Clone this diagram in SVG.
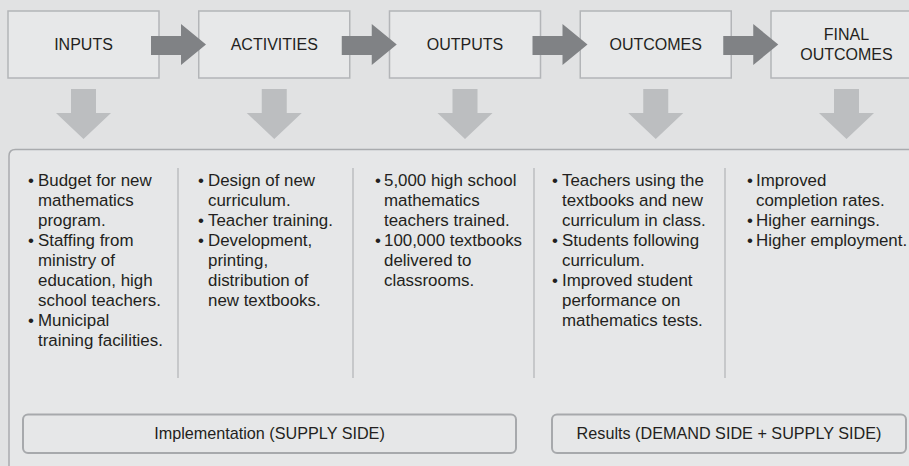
<svg xmlns="http://www.w3.org/2000/svg" width="909" height="466" viewBox="0 0 909 466">
<defs>
<style>
.bg{fill:#e1e2e3}
.box{fill:#e7e8e9;stroke:#b3b5b8;stroke-width:1.5}
.lbl{font-family:"Liberation Sans",Arial,sans-serif;font-size:16px;fill:#231f20;text-anchor:middle}
.lbl2{font-family:"Liberation Sans",Arial,sans-serif;font-size:16.2px;fill:#231f20;text-anchor:middle}
.body{font-family:"Liberation Sans",Arial,sans-serif;font-size:16.9px;fill:#231f20}
.harrow{fill:#808285}
.varrow{fill:#bcbec0}
.panel{fill:#e6e7e8;stroke:#a9abae;stroke-width:1.5}
.div{stroke:#a7a9ac;stroke-width:1}
.side{fill:#e6e7e8;stroke:#a7a9ac;stroke-width:2}
</style>
<path id="ha" d="M151,36 H181 V24 L206,44.5 L181,65 V55 H151 Z"/>
<path id="va" d="M-12.5,89 H12.5 V113 H27.5 L0,139 L-27.5,113 H-12.5 Z"/>
</defs>
<rect class="bg" x="0" y="0" width="909" height="466"/>

<g id="inputs">
<rect class="box" x="8" y="11" width="151" height="67"/>
<text class="lbl" x="83.5" y="50">INPUTS</text>
</g>
<g id="activities">
<rect class="box" x="198.75" y="11" width="151" height="67"/>
<text class="lbl" x="274.25" y="50">ACTIVITIES</text>
</g>
<g id="outputs">
<rect class="box" x="389.5" y="11" width="151" height="67"/>
<text class="lbl" x="465" y="50">OUTPUTS</text>
</g>
<g id="outcomes">
<rect class="box" x="580.25" y="11" width="151" height="67"/>
<text class="lbl" x="655.75" y="50">OUTCOMES</text>
</g>
<g id="final-outcomes">
<rect class="box" x="771" y="11" width="151" height="67"/>
<text class="lbl" x="846.5" y="40">FINAL</text>
<text class="lbl" x="846.5" y="59.5">OUTCOMES</text>
</g>

<g id="connectors">
<use href="#ha" class="harrow"/>
<use href="#ha" class="harrow" transform="translate(190.75,0)"/>
<use href="#ha" class="harrow" transform="translate(381.5,0)"/>
<use href="#ha" class="harrow" transform="translate(572.25,0)"/>
<use href="#va" class="varrow" transform="translate(83.5,0)"/>
<use href="#va" class="varrow" transform="translate(274.25,0)"/>
<use href="#va" class="varrow" transform="translate(465,0)"/>
<use href="#va" class="varrow" transform="translate(655.75,0)"/>
<use href="#va" class="varrow" transform="translate(846.5,0)"/>
</g>

<g id="panel">
<path class="panel" d="M9,475 V156 Q9,149.5 15.5,149.5 H925 V475 Z"/>
<line class="div" x1="178" y1="168" x2="178" y2="378"/>
<line class="div" x1="353" y1="168" x2="353" y2="378"/>
<line class="div" x1="534" y1="168" x2="534" y2="378"/>
<line class="div" x1="725" y1="168" x2="725" y2="378"/>
</g>

<g id="col-inputs">
<text class="body">
<tspan x="28" y="186">•</tspan><tspan x="38" y="186">Budget for new</tspan>
<tspan x="38" y="206">mathematics</tspan>
<tspan x="38" y="226">program.</tspan>
<tspan x="28" y="246">•</tspan><tspan x="38" y="246">Staffing from</tspan>
<tspan x="38" y="266">ministry of</tspan>
<tspan x="38" y="286">education, high</tspan>
<tspan x="38" y="306">school teachers.</tspan>
<tspan x="28" y="326">•</tspan><tspan x="38" y="326">Municipal</tspan>
<tspan x="38" y="346">training facilities.</tspan>
</text>
</g>
<g id="col-activities">
<text class="body">
<tspan x="198" y="186">•</tspan><tspan x="208" y="186">Design of new</tspan>
<tspan x="208" y="206">curriculum.</tspan>
<tspan x="198" y="226">•</tspan><tspan x="208" y="226">Teacher training.</tspan>
<tspan x="198" y="246">•</tspan><tspan x="208" y="246">Development,</tspan>
<tspan x="208" y="266">printing,</tspan>
<tspan x="208" y="286">distribution of</tspan>
<tspan x="208" y="306">new textbooks.</tspan>
</text>
</g>
<g id="col-outputs">
<text class="body">
<tspan x="375" y="186">•</tspan><tspan x="384" y="186">5,000 high school</tspan>
<tspan x="384" y="206">mathematics</tspan>
<tspan x="384" y="226">teachers trained.</tspan>
<tspan x="375" y="246">•</tspan><tspan x="384" y="246">100,000 textbooks</tspan>
<tspan x="384" y="266">delivered to</tspan>
<tspan x="384" y="286">classrooms.</tspan>
</text>
</g>
<g id="col-outcomes">
<text class="body">
<tspan x="552" y="186">•</tspan><tspan x="562" y="186">Teachers using the</tspan>
<tspan x="562" y="206">textbooks and new</tspan>
<tspan x="562" y="226">curriculum in class.</tspan>
<tspan x="552" y="246">•</tspan><tspan x="562" y="246">Students following</tspan>
<tspan x="562" y="266">curriculum.</tspan>
<tspan x="552" y="286">•</tspan><tspan x="562" y="286">Improved student</tspan>
<tspan x="562" y="306">performance on</tspan>
<tspan x="562" y="326">mathematics tests.</tspan>
</text>
</g>
<g id="col-final-outcomes">
<text class="body">
<tspan x="747" y="186">•</tspan><tspan x="756" y="186">Improved</tspan>
<tspan x="756" y="206">completion rates.</tspan>
<tspan x="747" y="226">•</tspan><tspan x="756" y="226">Higher earnings.</tspan>
<tspan x="747" y="246">•</tspan><tspan x="756" y="246">Higher employment.</tspan>
</text>
</g>

<g id="implementation">
<rect class="side" x="23" y="414.5" width="493" height="38.5" rx="5"/>
<text class="lbl2" x="269.5" y="439">Implementation (SUPPLY SIDE)</text>
</g>
<g id="results">
<rect class="side" x="552" y="414.5" width="354" height="38.5" rx="5"/>
<text class="lbl2" x="729" y="439">Results (DEMAND SIDE + SUPPLY SIDE)</text>
</g>
</svg>
